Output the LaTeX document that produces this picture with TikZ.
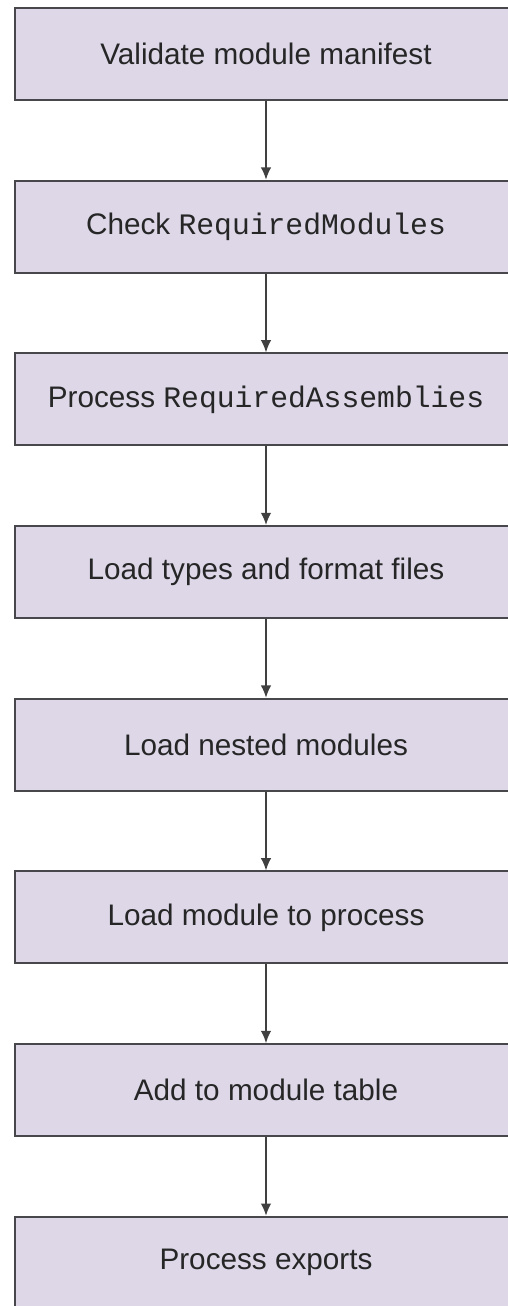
\documentclass[tikz,border=0pt]{standalone}
\usepackage{fontspec}
\setmainfont{Liberation Sans}
\setmonofont{Liberation Mono}
\usepackage{tikz}
\usetikzlibrary{arrows.meta, positioning}
\usepackage{xcolor}
\definecolor{boxfill}{RGB}{221,215,232}
\definecolor{boxline}{RGB}{72,72,76}

\begin{document}
\begin{tikzpicture}[
    node distance = 1.575cm,
    box/.style = {rectangle, draw=boxline, line width=1.1pt, fill=boxfill, minimum width=10.04cm, minimum height=1.84cm, align=center, font=\fontsize{16.9}{20}\selectfont, text=black!85},
    flow/.style = {-{Latex[length=7pt,width=6pt]}, line width=0.9pt, draw=black!75}
]
    \useasboundingbox (0,0) rectangle (10.16,-26.12);
    \clip (0,0) rectangle (10.16,-26.12);

    % 1. Steps of the module load
    \node [box] (manifest) at (5.32,-1.08) {Validate module manifest};
    \node [box, below=of manifest] (reqmod) {Check \texttt{RequiredModules}};
    \node [box, below=of reqmod] (reqasm) {Process \texttt{RequiredAssemblies}};
    \node [box, below=of reqasm] (types) {Load types and format files};
    \node [box, below=of types] (nested) {Load nested modules};
    \node [box, below=of nested] (loadmod) {Load module to process};
    \node [box, below=of loadmod] (modtable) {Add to module table};
    \node [box, below=of modtable] (exports) {Process exports};

    % 2. Connections
    \draw [flow] (manifest) -- (reqmod);
    \draw [flow] (reqmod) -- (reqasm);
    \draw [flow] (reqasm) -- (types);
    \draw [flow] (types) -- (nested);
    \draw [flow] (nested) -- (loadmod);
    \draw [flow] (loadmod) -- (modtable);
    \draw [flow] (modtable) -- (exports);

\end{tikzpicture}
\end{document}
